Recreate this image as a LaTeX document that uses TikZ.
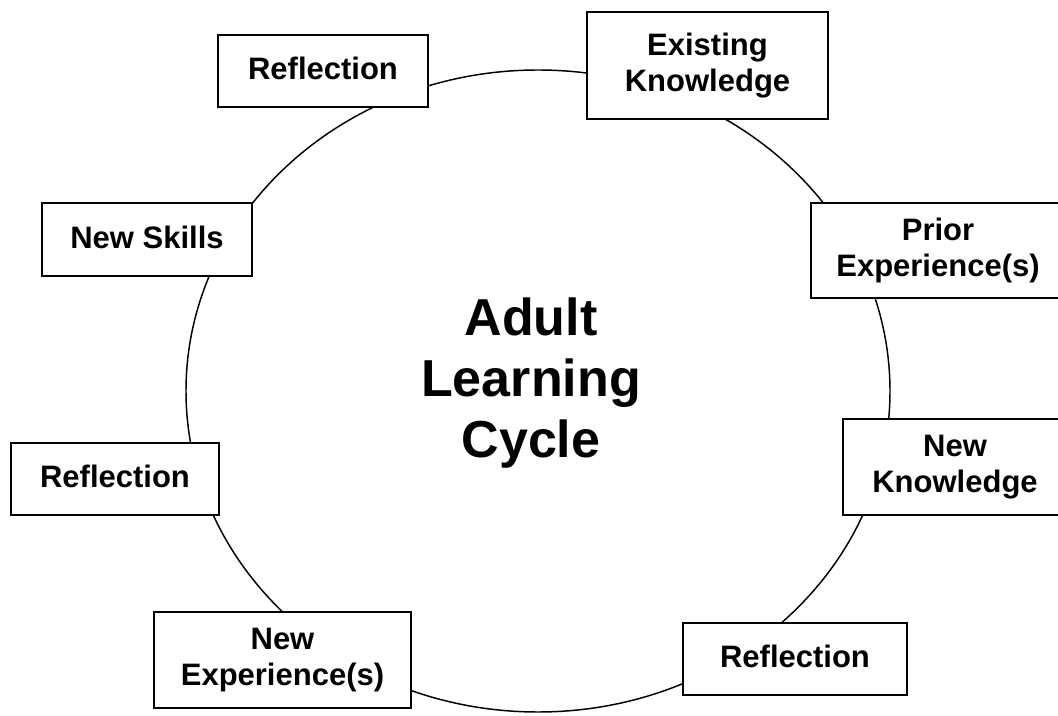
\documentclass[tikz,border=0pt]{standalone}
\usepackage{fontspec}
\setmainfont{Liberation Sans}
\begin{document}
\begin{tikzpicture}[x=0.75pt,y=-0.75pt,
  stagebox/.style={draw=black, line width=1.5pt, fill=white, inner sep=0pt, outer sep=0pt,
    align=center, font=\fontsize{23.25pt}{27pt}\selectfont\bfseries},
  stagetext/.style={inner sep=0pt, align=center, font=\fontsize{23.25pt}{27pt}\selectfont\bfseries},
  oneline/.style={text depth=0.35em},
  ring/.style={draw=black, line width=1.1pt},
  titletext/.style={align=center, font=\fontsize{39pt}{46pt}\selectfont\bfseries}]
\useasboundingbox (0,0) rectangle (1058,716);
\clip (0,0) rectangle (1058,716);
\fill[white] (0,0) rectangle (1058,716);
% the cycle
\draw[ring] (538,391) ellipse [x radius=264pt, y radius=240.75pt];
% stages
\node[stagebox, oneline, minimum width=157.5pt, minimum height=54pt] (refTop) at (323,71) {Reflection};
\node[stagebox, minimum width=180.75pt, minimum height=80.25pt] (exist) at (707.5,65.5) {Existing\\Knowledge};
\node[stagebox, oneline, minimum width=157.5pt, minimum height=54.75pt] (skills) at (147,239.5) {New Skills};
% boxes running off the right edge
\node[stagebox, minimum width=225pt, minimum height=71.25pt] (prior) at (961,250.5) {};
\node[stagetext] (priorText) at (938,250.5) {Prior\\Experience(s)};
\node[stagebox, oneline, minimum width=156pt, minimum height=54pt] (refLeft) at (115,479) {Reflection};
\node[stagebox, minimum width=210pt, minimum height=72pt] (newKnow) at (983,467) {};
\node[stagetext] (newKnowText) at (955,467) {New\\Knowledge};
\node[stagebox, minimum width=192.75pt, minimum height=72pt] (newExp) at (282.5,660) {New\\Experience(s)};
\node[stagebox, oneline, minimum width=168pt, minimum height=54pt] (refBR) at (795,659) {Reflection};
% title
\node[titletext] (title) at (531,383) {Adult\\Learning\\Cycle};
\end{tikzpicture}
\end{document}
